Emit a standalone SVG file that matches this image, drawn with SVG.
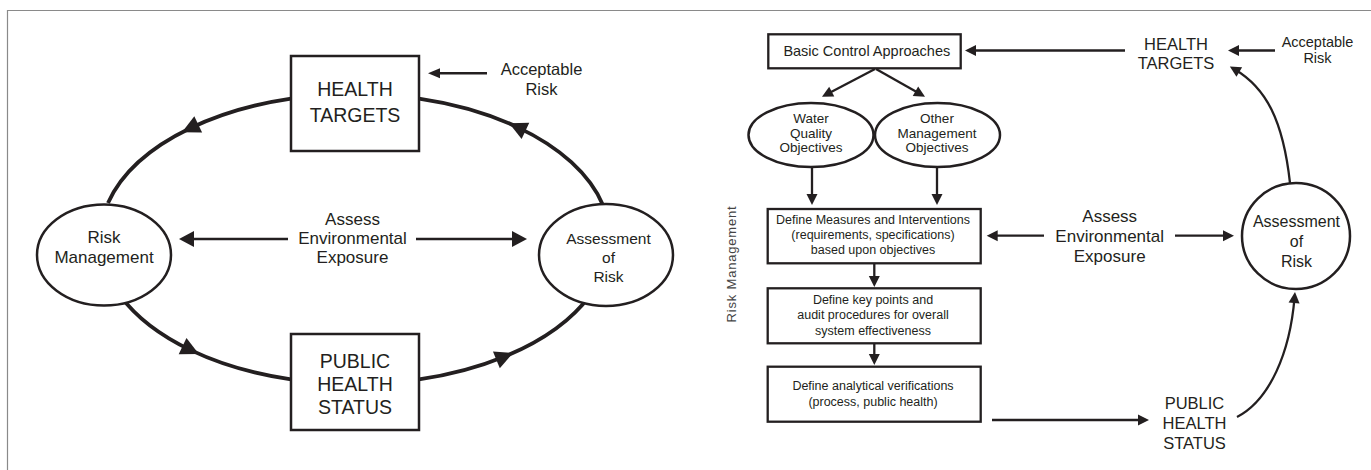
<svg xmlns="http://www.w3.org/2000/svg" width="1371" height="470" viewBox="0 0 1371 470">
<style>
text{font-family:"Liberation Sans",Arial,sans-serif;fill:#231f20;text-anchor:middle}
.node{fill:#fff;stroke:#231f20;stroke-width:2.5}
.loop{fill:none;stroke:#231f20;stroke-width:3.8}
.ln{fill:none;stroke:#231f20;stroke-width:2.6}
.rl{fill:none;stroke:#231f20;stroke-width:2.3}
.t195{font-size:19.5px}
.t17{font-size:17px}
.t165{font-size:16.5px}
.t16{font-size:16px}
.t155{font-size:15.5px}
.t145{font-size:14.5px}
.t135{font-size:13.5px}
.t125{font-size:12.5px}
</style>
<defs>
<marker id="mLoop" markerUnits="userSpaceOnUse" markerWidth="18" markerHeight="18" refX="9" refY="9" orient="auto" overflow="visible"><path d="M0,0 L18,9 L0,18 z" fill="#231f20"/></marker>
<marker id="mBig" markerUnits="userSpaceOnUse" markerWidth="15" markerHeight="16" refX="7" refY="8" orient="auto" overflow="visible"><path d="M0,0 L15,8 L0,16 z" fill="#231f20"/></marker>
<marker id="mSm" markerUnits="userSpaceOnUse" markerWidth="12" markerHeight="10" refX="6" refY="5" orient="auto" overflow="visible"><path d="M0,0 L12,5 L0,10 z" fill="#231f20"/></marker>
<marker id="mR" markerUnits="userSpaceOnUse" markerWidth="11" markerHeight="11" refX="5" refY="5.5" orient="auto" overflow="visible"><path d="M0,0 L11,5.5 L0,11 z" fill="#231f20"/></marker>
</defs>
<rect width="1371" height="470" fill="#fff"/>
<path d="M7.5,470 V10.5 H1371" fill="none" stroke="#8a8a8a" stroke-width="1.2"/>

<g id="connectors">
<path class="loop" d="M291,98.6 A255,145 0 0,0 190.1,128.3" marker-end="url(#mLoop)"/>
<path class="loop" d="M190.1,128.3 A255,145 0 0,0 108,203"/>
<path class="loop" d="M603,205.2 A255,145 0 0,0 517.3,127.1" marker-end="url(#mLoop)"/>
<path class="loop" d="M517.3,127.1 A255,145 0 0,0 419,98.6"/>
<path class="loop" d="M120,295.3 A255,145 0 0,0 190.7,350.1" marker-end="url(#mLoop)"/>
<path class="loop" d="M190.7,350.1 A255,145 0 0,0 291,379.4"/>
<path class="loop" d="M419,379.4 A255,145 0 0,0 504.7,356.5" marker-end="url(#mLoop)"/>
<path class="loop" d="M504.7,356.5 A255,145 0 0,0 590,295.3"/>
<line class="ln" x1="487" y1="73.3" x2="434" y2="73.3" marker-end="url(#mSm)"/>
<line class="ln" x1="288" y1="239" x2="187" y2="239" marker-end="url(#mBig)"/>
<line class="ln" x1="416" y1="239" x2="519" y2="239" marker-end="url(#mBig)"/>
<line class="rl" x1="1125" y1="50.5" x2="971" y2="50.5" marker-end="url(#mR)"/>
<line class="rl" x1="1275" y1="50.5" x2="1234" y2="50.5" marker-end="url(#mR)"/>
<line class="rl" x1="875" y1="69" x2="827.3" y2="93.9" marker-end="url(#mR)"/>
<line class="rl" x1="876" y1="69" x2="919.8" y2="93.7" marker-end="url(#mR)"/>
<line class="rl" x1="812" y1="167" x2="812" y2="199" marker-end="url(#mR)"/>
<line class="rl" x1="937" y1="167" x2="937" y2="199" marker-end="url(#mR)"/>
<line class="rl" x1="874.3" y1="263" x2="874.3" y2="281" marker-end="url(#mR)"/>
<line class="rl" x1="874.3" y1="343" x2="874.3" y2="359" marker-end="url(#mR)"/>
<line class="rl" x1="992" y1="420" x2="1143" y2="420" marker-end="url(#mR)"/>
<line class="rl" x1="1044" y1="235.7" x2="992.7" y2="235.7" marker-end="url(#mR)"/>
<line class="rl" x1="1175" y1="235.7" x2="1228" y2="235.7" marker-end="url(#mR)"/>
<path class="rl" d="M1290,183 C1283,120 1266,88 1235,69.5" marker-end="url(#mR)"/>
<path class="rl" d="M1237,417 C1270,400 1290,352 1294.5,298" marker-end="url(#mR)"/>
</g>

<g id="left-health-targets">
<rect class="node" x="291" y="56" width="128" height="95"/>
<text class="t195" x="355" y="96">HEALTH</text>
<text class="t195" x="355" y="122">TARGETS</text>
</g>
<g id="left-acceptable-risk">
<text class="t165" x="541.5" y="75">Acceptable</text>
<text class="t165" x="541.5" y="94.5">Risk</text>
</g>
<g id="left-risk-management">
<ellipse class="node" cx="104" cy="255" rx="67" ry="50.5"/>
<text class="t17" x="104" y="243">Risk</text>
<text class="t17" x="104" y="263">Management</text>
</g>
<g id="left-assess-exposure">
<text class="t17" x="352.5" y="225">Assess</text>
<text class="t17" x="352.5" y="244">Environmental</text>
<text class="t17" x="352.5" y="263">Exposure</text>
</g>
<g id="left-assessment-of-risk">
<ellipse class="node" cx="606" cy="255" rx="67" ry="51"/>
<text class="t155" x="608.5" y="244">Assessment</text>
<text class="t155" x="608.5" y="263">of</text>
<text class="t155" x="608.5" y="282">Risk</text>
</g>
<g id="left-public-health-status">
<rect class="node" x="291" y="334" width="128" height="96"/>
<text class="t195" x="355" y="368">PUBLIC</text>
<text class="t195" x="355" y="391">HEALTH</text>
<text class="t195" x="355" y="413.5">STATUS</text>
</g>

<g id="right-risk-management-label">
<text transform="translate(736,264) rotate(-90)" style="font-size:13px;letter-spacing:0.8px;fill:#444">Risk Management</text>
</g>
<g id="right-basic-control">
<rect class="node" x="768.3" y="34.3" width="192.4" height="34" style="stroke-width:2.3"/>
<text class="t145" x="866.8" y="56">Basic Control Approaches</text>
</g>
<g id="right-water-quality">
<ellipse class="node" cx="811" cy="135" rx="62.5" ry="32"/>
<text class="t135" x="811" y="123.3">Water</text>
<text class="t135" x="811" y="137.6">Quality</text>
<text class="t135" x="811" y="152">Objectives</text>
</g>
<g id="right-other-management">
<ellipse class="node" cx="937.5" cy="135" rx="62.5" ry="32"/>
<text class="t135" x="937" y="123.3">Other</text>
<text class="t135" x="937" y="137.6">Management</text>
<text class="t135" x="937" y="152">Objectives</text>
</g>
<g id="right-define-measures">
<rect class="node" x="767.7" y="209" width="213" height="54.3" style="stroke-width:2.3"/>
<text class="t125" x="873" y="224.3">Define Measures and Interventions</text>
<text class="t125" x="873" y="239">(requirements, specifications)</text>
<text class="t125" x="873" y="254">based upon objectives</text>
</g>
<g id="right-key-points">
<rect class="node" x="767.7" y="288.3" width="213" height="55" style="stroke-width:2.3"/>
<text class="t125" x="873" y="304">Define key points and</text>
<text class="t125" x="873" y="319">audit procedures for overall</text>
<text class="t125" x="873" y="335">system effectiveness</text>
</g>
<g id="right-analytical">
<rect class="node" x="767.7" y="366.7" width="213" height="55" style="stroke-width:2.3"/>
<text class="t125" x="873" y="390">Define analytical verifications</text>
<text class="t125" x="873" y="406">(process, public health)</text>
</g>
<g id="right-health-targets">
<text class="t165" x="1176" y="50">HEALTH</text>
<text class="t165" x="1176" y="69.3">TARGETS</text>
</g>
<g id="right-acceptable-risk">
<text class="t145" x="1317.5" y="46.7">Acceptable</text>
<text class="t145" x="1317.5" y="63.3">Risk</text>
</g>
<g id="right-assess-exposure">
<text class="t17" x="1109.7" y="221.7">Assess</text>
<text class="t17" x="1109.7" y="241.7">Environmental</text>
<text class="t17" x="1109.7" y="261.7">Exposure</text>
</g>
<g id="right-assessment-of-risk">
<ellipse class="node" cx="1296" cy="236" rx="54" ry="53"/>
<text class="t16" x="1296.5" y="226.7">Assessment</text>
<text class="t16" x="1296.5" y="246.7">of</text>
<text class="t16" x="1296.5" y="266.7">Risk</text>
</g>
<g id="right-public-health-status">
<text class="t165" x="1194.5" y="409.3">PUBLIC</text>
<text class="t165" x="1194.5" y="429">HEALTH</text>
<text class="t165" x="1194.5" y="449">STATUS</text>
</g>
</svg>
